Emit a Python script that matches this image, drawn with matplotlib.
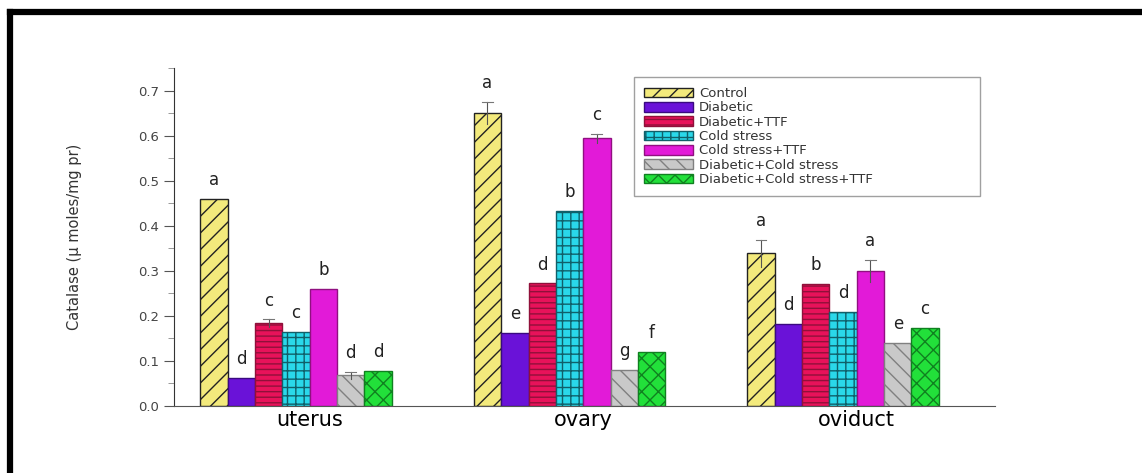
import matplotlib.pyplot as plt
import numpy as np
from matplotlib.lines import Line2D
from matplotlib.ticker import MultipleLocator

# 그룹(조직)과 처리군
tissues = ["uterus", "ovary", "oviduct"]
treatments = ["Control", "Diabetic", "Diabetic+TTF", "Cold stress",
              "Cold stress+TTF", "Diabetic+Cold stress",
              "Diabetic+Cold stress+TTF"]

# 처리군별 값 (uterus, ovary, oviduct 순)
control = [0.459, 0.650, 0.339]
diabetic = [0.062, 0.162, 0.182]
diabetic_ttf = [0.184, 0.272, 0.270]
cold_stress = [0.164, 0.432, 0.209]
cold_stress_ttf = [0.259, 0.594, 0.300]
diabetic_cold = [0.068, 0.080, 0.140]
diabetic_cold_ttf = [0.078, 0.120, 0.173]

# 오차막대
control_err = [0.0, 0.025, 0.030]
diabetic_err = [0.0, 0.0, 0.0]
diabetic_ttf_err = [0.008, 0.0, 0.0]
cold_stress_err = [0.0, 0.0, 0.0]
cold_stress_ttf_err = [0.0, 0.010, 0.025]
diabetic_cold_err = [0.008, 0.0, 0.0]
diabetic_cold_ttf_err = [0.0, 0.0, 0.0]

# 유의성 문자
control_sig = ["a", "a", "a"]
diabetic_sig = ["d", "e", "d"]
diabetic_ttf_sig = ["c", "d", "b"]
cold_stress_sig = ["c", "b", "d"]
cold_stress_ttf_sig = ["b", "c", "a"]
diabetic_cold_sig = ["d", "g", "e"]
diabetic_cold_ttf_sig = ["d", "f", "c"]

series = [control, diabetic, diabetic_ttf, cold_stress, cold_stress_ttf,
          diabetic_cold, diabetic_cold_ttf]
errors = [control_err, diabetic_err, diabetic_ttf_err, cold_stress_err,
          cold_stress_ttf_err, diabetic_cold_err, diabetic_cold_ttf_err]
letters = [control_sig, diabetic_sig, diabetic_ttf_sig, cold_stress_sig,
           cold_stress_ttf_sig, diabetic_cold_sig, diabetic_cold_ttf_sig]

faces = ["#f3ea7c", "#6a12d8", "#e8125a", "#2ad8ea", "#e21ad8",
         "#c9c9c9", "#22e03a"]
edges = ["#222222", "#3a0a80", "#90103a", "#10606a", "#901080",
         "#808080", "#108020"]
hatches = ["//", "", "---", "++", "", "\\\\", "xx"]

fig = plt.figure(figsize=(11.42, 4.73), dpi=100)
ax = fig.add_axes([0.1524, 0.1416, 0.719, 0.7146])

x = np.arange(1, len(tissues) + 1)
width = 0.1
for i, (vals, errs, sig) in enumerate(zip(series, errors, letters)):
    pos = x + (i - 3) * width
    ax.bar(pos, vals, width=width, color=faces[i], edgecolor=edges[i],
           hatch=hatches[i], linewidth=1.0, label=treatments[i], zorder=2)
    for p, v, e in zip(pos, vals, errs):
        if e > 0:
            ax.plot([p, p], [v - e, v + e], color="#555555", lw=0.8, zorder=3)
            ax.plot([p - 0.02, p + 0.02], [v + e, v + e], color="#777777",
                    lw=0.8, zorder=3)
    for p, v, e, s in zip(pos, vals, errs, sig):
        ax.text(p, v + e + 0.022, s, ha="center", va="bottom",
                fontsize=12, color="#222222")

ax.set_xlim(0.554, 3.556)
ax.set_ylim(0, 0.75)
ax.set_xticks(x + 0.05)
ax.set_xticklabels(tissues, fontsize=15)
ax.tick_params(axis="x", length=0, pad=3)
ax.yaxis.set_major_locator(MultipleLocator(0.1))
ax.yaxis.set_minor_locator(MultipleLocator(0.05))
ax.yaxis.set_major_formatter(plt.FormatStrFormatter("%.1f"))
ax.tick_params(axis="y", which="major", length=7, labelsize=9.5,
               labelcolor="#444444", color="#555555")
ax.tick_params(axis="y", which="minor", length=4, color="#888888")
ax.spines["top"].set_visible(False)
ax.spines["right"].set_visible(False)
ax.spines["left"].set_color("#333333")
ax.spines["bottom"].set_color("#555555")
ax.set_ylabel("Catalase (\u03bc moles/mg pr)", fontsize=10.5, color="#333333")
ax.yaxis.set_label_coords(-0.112, 0.5)

leg = ax.legend(loc="upper left", bbox_to_anchor=(0.56, 0.589, 0.422, 0.384),
                mode="expand", fontsize=9.5, frameon=True, fancybox=False,
                handlelength=3.7, handleheight=0.75, labelspacing=0.1,
                borderpad=0.75, handletextpad=0.5, borderaxespad=0.0)
leg.get_frame().set_edgecolor("#888888")
leg.get_frame().set_linewidth(1.0)
for t in leg.get_texts():
    t.set_color("#333333")

# 바깥 테두리 (위쪽/왼쪽)
fig.add_artist(Line2D([10 / 1142, 1.0], [1 - 12 / 473, 1 - 12 / 473],
                      transform=fig.transFigure, color="black", lw=4.5))
fig.add_artist(Line2D([10 / 1142, 10 / 1142], [0.0, 1 - 12 / 473],
                      transform=fig.transFigure, color="black", lw=4.5))

fig.savefig("out.png", dpi=100)
